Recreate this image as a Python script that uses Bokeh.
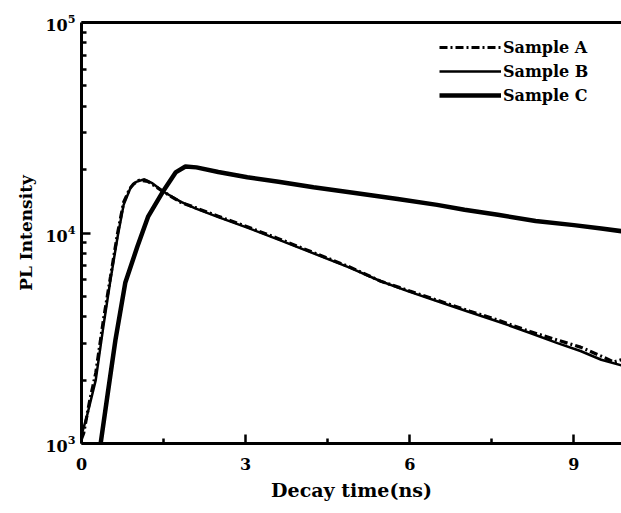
from bokeh.plotting import figure
from bokeh.models import FixedTicker, LinearAxis, Range1d, Legend, LegendItem, LogTickFormatter
from bokeh.embed import file_html
from bokeh.resources import INLINE

# ---- data ----
a_x = [0.0, 0.04, 0.15, 0.26, 0.40, 0.53, 0.66, 0.77, 0.88, 0.95, 1.05, 1.21, 1.48, 1.81, 2.08, 2.5,
       3.03, 3.6, 4.24, 4.9, 5.47, 6.0, 6.6, 7.1, 7.61, 8.2, 8.7, 9.12, 9.5, 9.73, 9.87]
a_y = [1.05e3, 1.12e3, 1.6e3, 2.16e3, 3.86e3, 6.2e3, 1.0e4, 1.40e4, 1.62e4, 1.71e4, 1.78e4, 1.76e4,
       1.58e4, 1.40e4, 1.32e4, 1.20e4, 1.07e4, 9.4e3, 8.07e3, 6.9e3, 5.9e3, 5.3e3, 4.7e3, 4.25e3,
       3.86e3, 3.4e3, 3.1e3, 2.87e3, 2.6e3, 2.44e3, 2.5e3]

b_x = [0.0, 0.1, 0.26, 0.40, 0.53, 0.66, 0.77, 0.90, 1.0, 1.15, 1.3, 1.5, 1.81, 2.08, 2.5, 3.03,
       3.6, 4.24, 4.9, 5.47, 6.0, 6.6, 7.1, 7.61, 8.2, 8.7, 9.12, 9.5, 9.87]
b_y = [1.1e3, 1.35e3, 2.0e3, 3.6e3, 6.0e3, 9.6e3, 1.36e4, 1.65e4, 1.75e4, 1.80e4, 1.72e4, 1.57e4,
       1.41e4, 1.31e4, 1.19e4, 1.06e4, 9.3e3, 8.0e3, 6.85e3, 5.9e3, 5.25e3, 4.65e3, 4.2e3, 3.8e3,
       3.35e3, 3.0e3, 2.75e3, 2.5e3, 2.35e3]

c_x = [0.35, 0.48, 0.62, 0.80, 1.02, 1.22, 1.48, 1.72, 1.90, 2.1, 2.5, 3.03, 3.6, 4.24, 5.0, 5.78,
       6.5, 7.0, 7.61, 8.3, 9.0, 9.5, 9.87]
c_y = [1.0e3, 1.73e3, 3.1e3, 5.8e3, 8.6e3, 1.2e4, 1.56e4, 1.94e4, 2.07e4, 2.05e4, 1.95e4, 1.84e4,
       1.75e4, 1.65e4, 1.55e4, 1.45e4, 1.36e4, 1.29e4, 1.22e4, 1.14e4, 1.09e4, 1.05e4, 1.02e4]

labels = ["Sample A", "Sample B", "Sample C"]
x_ticks = [0, 3, 6, 9]
x_minor = [1.5, 4.5, 7.5]
y_ticks = [1e3, 1e4, 1e5]
y_minor = [m * 1e3 for m in range(2, 10)] + [m * 1e4 for m in range(2, 10)]

FONT = "DejaVu Serif"
X0, X1, Y0, Y1 = 0, 9.87, 1e3, 1e5

p = figure(width=621, height=513, output_backend="svg", toolbar_location=None,
           y_axis_type="log", x_range=Range1d(X0, X1), y_range=Range1d(Y0, Y1),
           min_border_left=81, min_border_top=22, min_border_bottom=70, min_border_right=0)
p.outline_line_color = None
p.grid.visible = False

ra = p.line(a_x, a_y, line_color="black", line_width=3.2, line_dash="8 3 2 3")
rb = p.line(b_x, b_y, line_color="black", line_width=2.5)
rc = p.line(c_x, c_y, line_color="black", line_width=4.5)

xa = p.xaxis[0]
xa.ticker = FixedTicker(ticks=x_ticks, minor_ticks=x_minor)
xa.axis_label = "Decay time(ns)"
ya = p.yaxis[0]
ya.ticker = FixedTicker(ticks=y_ticks, minor_ticks=y_minor)
ya.formatter = LogTickFormatter()
ya.axis_label = "PL Intensity"
for ax in (xa, ya):
    ax.axis_line_width = 3
    ax.axis_line_color = "black"
    ax.major_tick_in = 9
    ax.major_tick_out = 0
    ax.minor_tick_in = 5
    ax.minor_tick_out = 0
    ax.major_tick_line_width = 2.5
    ax.minor_tick_line_width = 2.5
    ax.major_tick_line_color = "black"
    ax.minor_tick_line_color = "black"
    ax.major_label_text_font = FONT
    ax.major_label_text_font_style = "bold"
    ax.major_label_text_font_size = "16px"
    ax.major_label_text_color = "black"
    ax.axis_label_text_font = FONT
    ax.axis_label_text_font_style = "bold"
    ax.axis_label_text_color = "black"
xa.axis_label_text_font_size = "19px"
ya.axis_label_text_font_size = "17px"
xa.major_label_standoff = 14
xa.axis_label_standoff = 6
ya.major_label_standoff = 6
ya.axis_label_standoff = 6

top = LinearAxis(ticker=FixedTicker(ticks=[]), major_label_text_font_size="0px",
                 axis_line_width=3, major_tick_in=0, major_tick_out=0, minor_tick_in=0, minor_tick_out=0)
p.add_layout(top, "above")

legend = Legend(items=[LegendItem(label=labels[0], renderers=[ra]),
                       LegendItem(label=labels[1], renderers=[rb]),
                       LegendItem(label=labels[2], renderers=[rc])],
                location=(358, 338), border_line_color=None, background_fill_alpha=0,
                glyph_width=62, glyph_height=20, label_standoff=2, spacing=4, padding=0,
                label_text_font=FONT, label_text_font_style="bold", label_text_font_size="16px",
                label_text_color="black")
p.add_layout(legend, "center")

open("out.html", "w").write(file_html(p, INLINE))
